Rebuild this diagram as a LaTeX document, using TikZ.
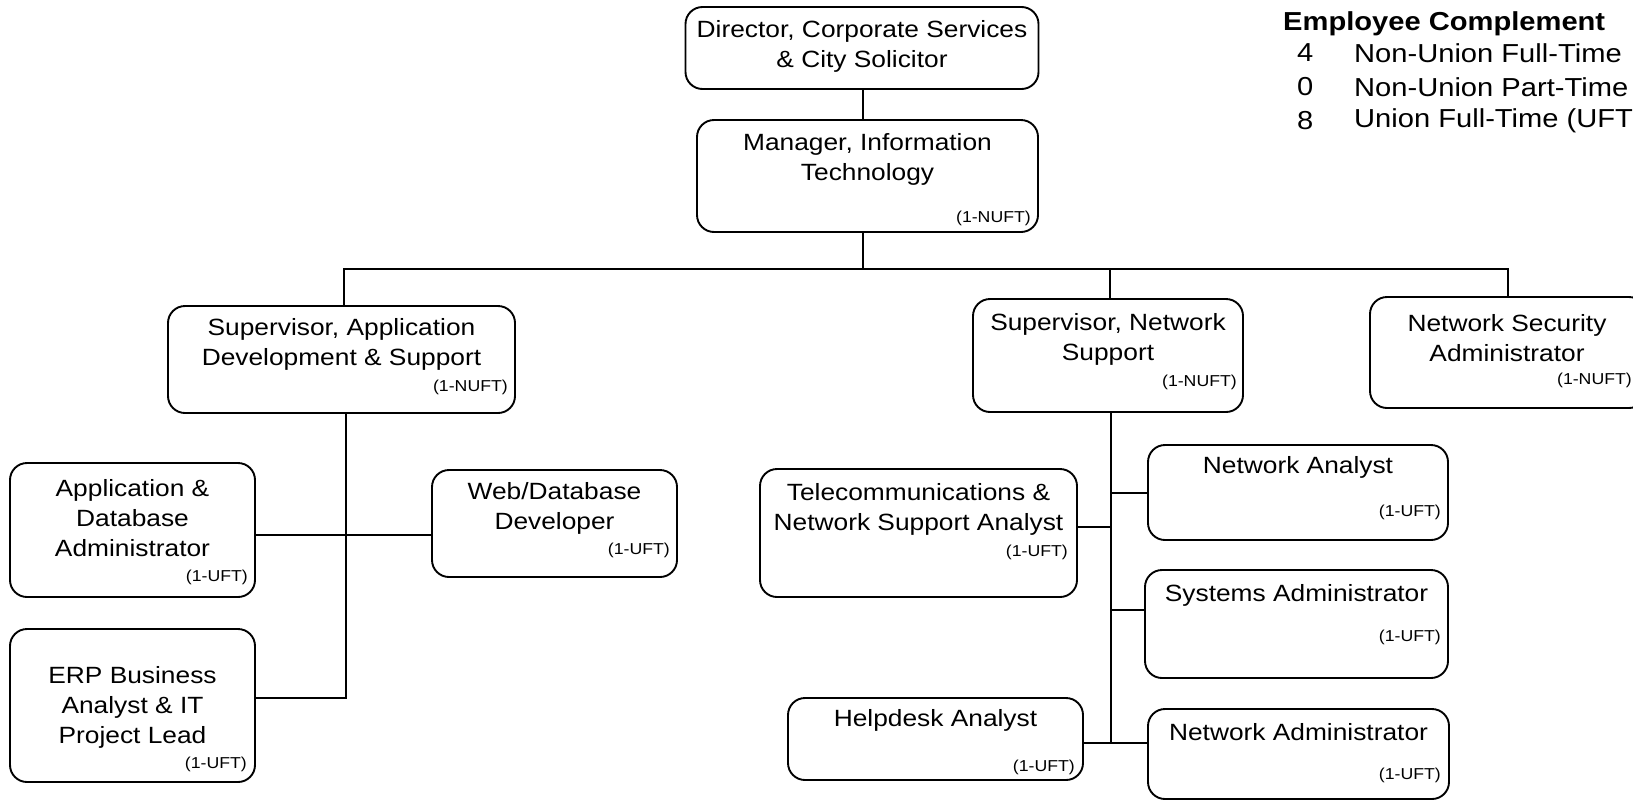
\documentclass[tikz,border=0pt]{standalone}
\usepackage{fontspec}
\setmainfont{Liberation Sans}[FakeStretch=1.12]
\usetikzlibrary{calc}
\tikzset{
  box/.style={draw, line width=1.9pt, rounded corners=17pt, inner sep=0pt},
  txt/.style={align=center, font=\fontsize{23.5}{30}\selectfont, inner sep=0pt},
  tag/.style={font=\fontsize{15.8}{18}\selectfont, inner sep=0pt, anchor=east},
  link/.style={line width=1.9pt},
  hd/.style={font=\fontsize{26}{30}\selectfont\bfseries, inner sep=0pt, anchor=west},
  lg/.style={font=\fontsize{26}{30}\selectfont, inner sep=0pt, anchor=west},
}
\begin{document}
\begin{tikzpicture}[x=1pt,y=-1pt]
\useasboundingbox (0,0) rectangle (1633,801);
% boxes
\node[box, minimum width=353pt, minimum height=82pt] (dir) at (862,48) {};
\node[txt] (dirT) at (862,46) {Director, Corporate Services\\\& City Solicitor};
\node[box, minimum width=341pt, minimum height=112pt] (mgr) at (867.5,176) {};
\node[txt] (mgrT) at (867.5,159) {Manager, Information\\Technology};
\node[tag] (mgrG) at (1031,218) {(1-NUFT)};
\node[box, minimum width=347pt, minimum height=107pt] (supA) at (341.5,359.5) {};
\node[txt] (supAT) at (341.5,344) {Supervisor, Application\\Development \& Support};
\node[tag] (supAG) at (508,387) {(1-NUFT)};
\node[box, minimum width=270pt, minimum height=113pt] (supN) at (1108,355.5) {};
\node[txt] (supNT) at (1108,339) {Supervisor, Network\\Support};
\node[tag] (supNG) at (1237,382) {(1-NUFT)};
\node[box, minimum width=276pt, minimum height=111pt] (sec) at (1508,352.5) {};
\node[txt] (secT) at (1507,338) {Network Security\\Administrator};
\node[tag] (secG) at (1632,380) {(1-NUFT)};
\node[box, minimum width=245pt, minimum height=134pt] (appdb) at (132.5,530) {};
\node[txt] (appdbT) at (132.5,518) {Application \&\\Database\\Administrator};
\node[tag] (appdbG) at (248,577) {(1-UFT)};
\node[box, minimum width=245pt, minimum height=107pt] (web) at (554.5,523.5) {};
\node[txt] (webT) at (554.5,508) {Web/Database\\Developer};
\node[tag] (webG) at (670,550) {(1-UFT)};
\node[box, minimum width=245pt, minimum height=153pt] (erp) at (132.5,705.5) {};
\node[txt] (erpT) at (132.5,707) {ERP Business\\Analyst \& IT\\Project Lead};
\node[tag] (erpG) at (247,764) {(1-UFT)};
\node[box, minimum width=317pt, minimum height=128pt] (tel) at (918.5,533) {};
\node[txt] (telT) at (918.5,509) {Telecommunications \&\\Network Support Analyst};
\node[tag] (telG) at (1068,552) {(1-UFT)};
\node[box, minimum width=300pt, minimum height=95pt] (na) at (1298,492.5) {};
\node[txt] (naT) at (1298,467) {Network Analyst};
\node[tag] (naG) at (1441,512) {(1-UFT)};
\node[box, minimum width=303pt, minimum height=108pt] (sys) at (1296.5,624) {};
\node[txt] (sysT) at (1296.5,595) {Systems Administrator};
\node[tag] (sysG) at (1441,637) {(1-UFT)};
\node[box, minimum width=295pt, minimum height=82pt] (help) at (935.5,739) {};
\node[txt] (helpT) at (935.5,720) {Helpdesk Analyst};
\node[tag] (helpG) at (1075,767) {(1-UFT)};
\node[box, minimum width=301pt, minimum height=90pt] (nadm) at (1298.5,754) {};
\node[txt] (nadmT) at (1298.5,732) {Network Administrator};
\node[tag] (nadmG) at (1441,775) {(1-UFT)};
% connectors
\coordinate (trunk) at (863,269);
\coordinate (busA) at (344,269);
\coordinate (busN) at (1110,269);
\coordinate (busS) at (1508,269);
\draw[link] (dir.south -| trunk) -- (mgr.north -| trunk);
\draw[link] (mgr.south -| trunk) -- (trunk);
\draw[link] (supA.north -| busA) -- (busA) -- (busS) -- (sec.north);
\draw[link] (busN) -- (supN.north -| busN);
\coordinate (appEnd) at (346,698);
\coordinate (appMid) at (346,535);
\draw[link] (supA.south -| appEnd) -- (appEnd) -- (appEnd -| erp.east);
\draw[link] (appMid -| appdb.east) -- (appMid -| web.west);
\coordinate (netEnd) at (1111,743);
\coordinate (telY) at (1111,527);
\coordinate (naY) at (1111,493);
\coordinate (sysY) at (1111,610);
\draw[link] (supN.south -| netEnd) -- (netEnd);
\draw[link] (naY) -- (naY -| na.west);
\draw[link] (telY -| tel.east) -- (telY);
\draw[link] (sysY) -- (sysY -| sys.west);
\draw[link] (netEnd -| help.east) -- (netEnd -| nadm.west);
% legend
\node[hd] (lgH) at (1283,24) {Employee Complement};
\node[lg] (n1) at (1297,53) {4};
\node[lg] (t1) at (1354,53) {Non-Union Full-Time};
\node[lg] (n2) at (1297,87) {0};
\node[lg] (t2) at (1354,87) {Non-Union Part-Time};
\node[lg] (n3) at (1297,121) {8};
\node[lg] (t3) at (1354,121) {Union Full-Time (UFT)};
\end{tikzpicture}
\end{document}
